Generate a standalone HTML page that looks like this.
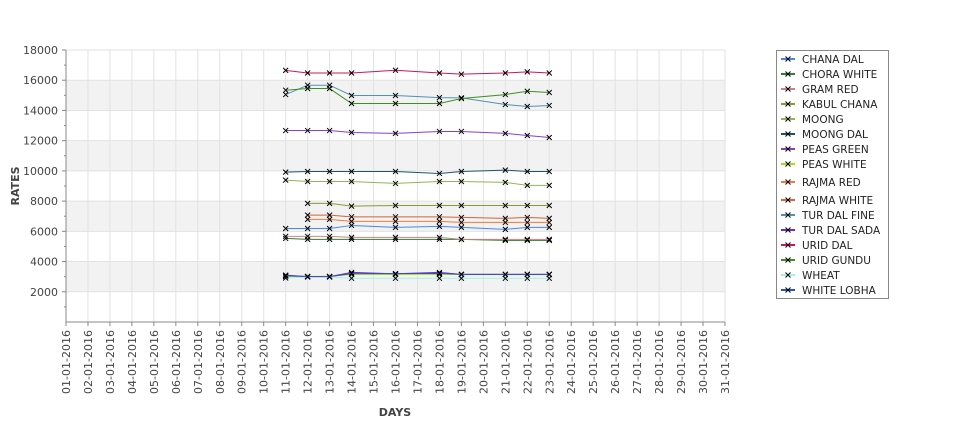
<!DOCTYPE html>
<html><head><meta charset="utf-8"><style>
body{margin:0;background:#fff;font-family:"DejaVu Sans","Liberation Sans",sans-serif;}
svg text{font-family:"DejaVu Sans","Liberation Sans",sans-serif;}
</style></head><body>
<svg id="c" width="975" height="429" xmlns="http://www.w3.org/2000/svg">
<rect width="975" height="429" fill="#fff"/>
<g id="grid"></g><g id="axes"></g><g id="series"></g><g id="legend"></g>
</svg>
<script>
const days = ["01-01-2016","02-01-2016","03-01-2016","04-01-2016","05-01-2016","06-01-2016","07-01-2016","08-01-2016","09-01-2016","10-01-2016","11-01-2016","12-01-2016","13-01-2016","14-01-2016","15-01-2016","16-01-2016","17-01-2016","18-01-2016","19-01-2016","20-01-2016","21-01-2016","22-01-2016","23-01-2016","24-01-2016","25-01-2016","26-01-2016","27-01-2016","28-01-2016","29-01-2016","30-01-2016","31-01-2016"];
const yTicks = [2000,4000,6000,8000,10000,12000,14000,16000,18000];
const dataDays = [11,12,13,14,16,18,19,21,22,23];
const names = ["CHANA DAL","CHORA WHITE","GRAM RED","KABUL CHANA","MOONG","MOONG DAL","PEAS GREEN","PEAS WHITE","RAJMA RED","RAJMA WHITE","TUR DAL FINE","TUR DAL SADA","URID DAL","URID GUNDU","WHEAT","WHITE LOBHA"];
const colors = ["#4a86e8","#2e7d32","#c98585","#8a9a30","#93b455","#1d5468","#8a3fc8","#a6e010","#f07a3a","#d0643a","#4f93b0","#7a2ab8","#d0145a","#3f8f1f","#a8f0ea","#3050c0"];
const chanaDal   = [6190,6190,6190,6390,6260,6330,6260,6130,6260,6260];
const choraWhite = [5530,5470,5470,5470,5470,5470,5470,5400,5400,5400];
const gramRed    = [5670,5670,5670,5600,5600,5600,5470,5470,5470,5470];
const kabulChana = [null,7850,7850,7670,7710,7710,7710,7710,7710,7710];
const moong      = [9390,9300,9300,9300,9170,9300,9300,9240,9040,9040];
const moongDal   = [9920,9960,9960,9960,9960,9830,9960,10050,9960,9960];
const peasGreen  = [12670,12670,12670,12540,12480,12610,12610,12480,12340,12210];
const peasWhite  = [3020,3020,3020,3150,3150,3150,3150,3150,3150,3150];
const rajmaRed   = [null,6790,6790,6660,6660,6660,6590,6590,6590,6590];
const rajmaWhite = [null,7070,7070,6960,6960,6960,6920,6860,6920,6860];
const turDalFine = [15050,15670,15670,14990,14990,14850,14830,14390,14260,14330];
const turDalSada = [3100,3000,3000,3280,3190,3280,3150,3150,3150,3150];
const uridDal    = [16650,16480,16480,16480,16660,16480,16400,16480,16550,16480];
const uridGundu  = [15340,15450,15450,14460,14460,14460,14790,15050,15270,15190];
const wheat      = [2910,2980,2980,2890,2890,2890,2890,2890,2890,2890];
const whiteLobha = [3060,3000,3000,3200,3200,3220,3150,3150,3150,3150];
const seriesVals = [chanaDal,choraWhite,gramRed,kabulChana,moong,moongDal,peasGreen,peasWhite,rajmaRed,rajmaWhite,turDalFine,turDalSada,uridDal,uridGundu,wheat,whiteLobha];

const NS="http://www.w3.org/2000/svg";
const L=66,R=725,T=50,B=322,YMAX=18000;
const x=d=>L+(d-1)*(R-L)/30;
const y=v=>B-v*(B-T)/YMAX;
function mk(tag,at,parent){const e=document.createElementNS(NS,tag);for(const k in at)e.setAttribute(k,at[k]);parent.appendChild(e);return e;}
const grid=document.getElementById('grid'),axes=document.getElementById('axes'),ser=document.getElementById('series'),leg=document.getElementById('legend');
for(let i=0;i<yTicks.length-1;i++){ if(i%2===0){const b=mk('rect',{x:L,y:y(yTicks[i+1]),width:R-L,height:y(yTicks[i])-y(yTicks[i+1]),fill:'#f2f2f2'},grid);

}}
days.forEach((d,i)=>{const g=mk('line',{x1:x(i+1),x2:x(i+1),y1:T,y2:B,stroke:'#e2e2e2','stroke-width':1},grid);


const t=mk('text',{x:0,y:0,transform:`translate(${x(i+1)+4},${B+8}) rotate(-90)`,'text-anchor':'end','font-size':11,fill:'#444'},axes);t.textContent=d;


mk('line',{x1:x(i+1),x2:x(i+1),y1:B,y2:B+4,stroke:'#888'},axes);});
yTicks.forEach(v=>{const g=mk('line',{x1:L,x2:R,y1:y(v),y2:y(v),stroke:'#e2e2e2'},grid);


const t=mk('text',{x:L-8,y:y(v)+4,'text-anchor':'end','font-size':11,fill:'#444'},axes);t.textContent=v;


mk('line',{x1:L-4,x2:L,y1:y(v),y2:y(v),stroke:'#888'},axes);
mk('line',{x1:L-2,x2:L,y1:y(v-1000),y2:y(v-1000),stroke:'#888'},axes);});
mk('line',{x1:L,x2:L,y1:T,y2:B,stroke:'#888'},axes);
mk('line',{x1:L,x2:R,y1:B,y2:B,stroke:'#888'},axes);
const xt=mk('text',{x:395,y:416,'text-anchor':'middle','font-size':11,'font-weight':'bold',fill:'#444'},axes);xt.textContent='DAYS';


const yt=mk('text',{x:0,y:0,transform:'translate(19,186) rotate(-90)','text-anchor':'middle','font-size':11,'font-weight':'bold',fill:'#444'},axes);yt.textContent='RATES';


function cross(cx,cy,p,c){const g=mk('path',{d:`M${cx-2.5},${cy-2.5}L${cx+2.5},${cy+2.5}M${cx-2.5},${cy+2.5}L${cx+2.5},${cy-2.5}`,stroke:c,'stroke-width':1},p);return g;}
seriesVals.forEach((vals,si)=>{
 const g=mk('g',{},ser);
 
 
 const pts=[];vals.forEach((v,i)=>{if(v!=null)pts.push([x(dataDays[i]),y(v)]);});
 const pl=mk('polyline',{points:pts.map(p=>p.join(',')).join(' '),fill:'none',stroke:colors[si],'stroke-width':1},g);
 
 
 pts.forEach(p=>{const m=cross(p[0],p[1],g,'#000');
 
 });
});
const lb=mk('rect',{x:776.5,y:50.5,width:112,height:248,fill:'#fff',stroke:'#888'},leg);


const ly=[59,74,89,104,119,134,149,164,182,200,215,230,245,260,275,290];
names.forEach((n,i)=>{const g=mk('g',{},leg);


mk('line',{x1:781,x2:795,y1:ly[i],y2:ly[i],stroke:colors[i],'stroke-width':2},g);
cross(788,ly[i],g,'#000');
const t=mk('text',{x:802,y:ly[i]+4,'font-size':10.5,fill:'#222'},g);t.textContent=n;});
</script>
</body></html>
